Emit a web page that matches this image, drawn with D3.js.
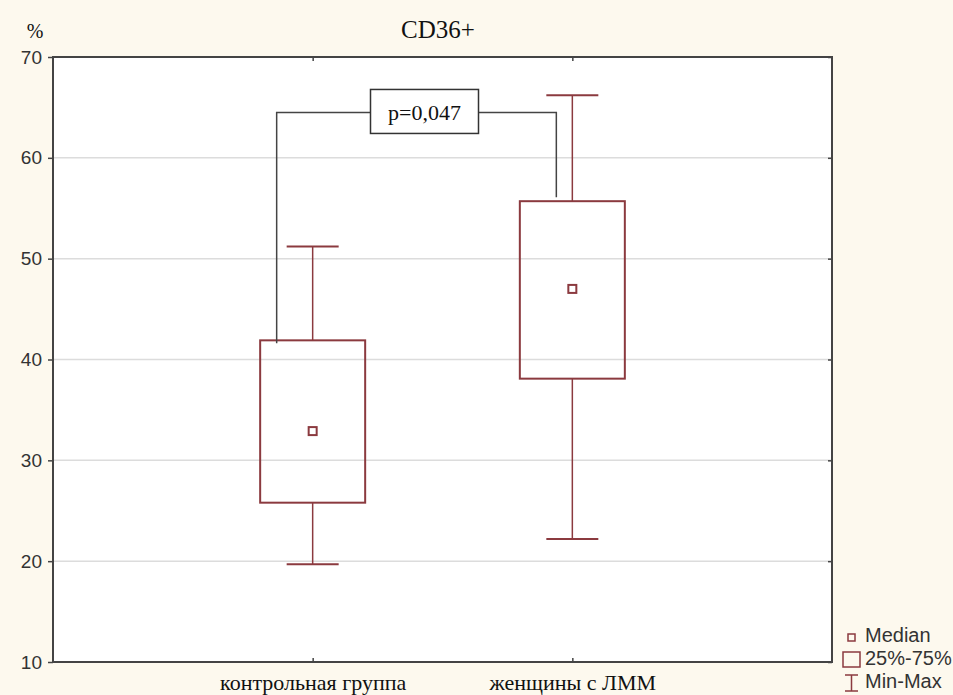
<!DOCTYPE html>
<meta charset="utf-8">
<style>
body { margin: 0; background: #fdf9ee; }
svg { display: block; }
.sans { font-family: Arial, "Liberation Sans", sans-serif; fill: #333; }
.serif { font-family: "Times New Roman", "Liberation Serif", serif; fill: #111; }
</style>
<body>
<script src="https://d3js.org/d3.v7.min.js"></script>
<script>

var categories = ["контрольная группа", "женщины с ЛММ"];
var mins    = [19.7, 22.2];
var q1s     = [25.8, 38.1];
var medians = [32.9, 47.0];
var q3s     = [41.9, 55.7];
var maxs    = [51.2, 66.2];

var yTicks = [10, 20, 30, 40, 50, 60, 70];

// significance bracket: level, leg ends, label
var pLevel = 64.5;
var pLegs = [41.6, 56.1];
var pLabel = "p=0,047";

var width = 953,
    height = 695;
var margin = {top: 57, right: 121, bottom: 33, left: 53};

var boxColor = "#8b3a3f";

var svg = d3.select("body").append("svg")
    .attr("width", width)
    .attr("height", height);

var x = d3.scalePoint()
    .domain(categories)
    .range([margin.left, width - margin.right])
    .padding(1);

var y = d3.scaleLinear()
    .domain([10, 70])
    .range([height - margin.bottom, margin.top]);

// plot area
svg.append("rect")
    .attr("x", margin.left)
    .attr("y", margin.top)
    .attr("width", width - margin.left - margin.right)
    .attr("height", height - margin.top - margin.bottom)
    .attr("fill", "#fff");

// grid
svg.append("g")
  .selectAll("line")
  .data(yTicks.slice(1, -1))
  .join("line")
    .attr("x1", margin.left)
    .attr("x2", width - margin.right)
    .attr("y1", function(d) { return y(d); })
    .attr("y2", function(d) { return y(d); })
    .attr("stroke", "#dcdcdc")
    .attr("stroke-width", 1.5);

// axes
var yAxis = svg.append("g")
    .attr("transform", "translate(" + margin.left + ",0)")
    .call(d3.axisLeft(y).tickValues(yTicks).tickSize(5).tickPadding(6).tickSizeOuter(0));
yAxis.select(".domain").remove();
yAxis.selectAll("line").attr("stroke", "#444").attr("stroke-width", 1.5);
yAxis.selectAll("text")
    .attr("class", "sans")
    .attr("font-size", 19)
    .attr("fill", "#333");

svg.append("g")
    .attr("transform", "translate(" + (width - margin.right) + ",0)")
    .call(d3.axisRight(y).tickValues(yTicks).tickSize(-4).tickFormat("").tickSizeOuter(0))
    .call(function(g) { g.select(".domain").remove(); g.selectAll("line").attr("stroke", "#444").attr("stroke-width", 1.5); });

svg.append("g")
    .attr("transform", "translate(0," + margin.top + ")")
    .call(d3.axisTop(x).tickSize(-4).tickFormat("").tickSizeOuter(0))
    .call(function(g) { g.select(".domain").remove(); g.selectAll("line").attr("stroke", "#444").attr("stroke-width", 1.5); });

var xAxis = svg.append("g")
    .attr("transform", "translate(0," + (height - margin.bottom) + ")")
    .call(d3.axisBottom(x).tickSize(-4).tickPadding(12).tickSizeOuter(0));
xAxis.select(".domain").remove();
xAxis.selectAll("line").attr("stroke", "#444").attr("stroke-width", 1.5);
xAxis.selectAll("text")
    .attr("class", "serif")
    .attr("font-size", 22)
    .attr("fill", "#111");

// frame
svg.append("rect")
    .attr("x", margin.left)
    .attr("y", margin.top)
    .attr("width", width - margin.left - margin.right)
    .attr("height", height - margin.top - margin.bottom)
    .attr("fill", "none")
    .attr("stroke", "#444")
    .attr("stroke-width", 2);

// boxes
var boxW = 105, capW = 52, medS = 8;
var data = categories.map(function(c, i) {
  return {cat: c, min: mins[i], q1: q1s[i], med: medians[i], q3: q3s[i], max: maxs[i]};
});

var g = svg.append("g").selectAll("g")
    .data(data)
    .join("g")
    .attr("transform", function(d) { return "translate(" + x(d.cat) + ",0)"; });

g.append("line")
    .attr("y1", function(d) { return y(d.max); })
    .attr("y2", function(d) { return y(d.q3); })
    .attr("stroke", boxColor).attr("stroke-width", 1.5);
g.append("line")
    .attr("y1", function(d) { return y(d.q1); })
    .attr("y2", function(d) { return y(d.min); })
    .attr("stroke", boxColor).attr("stroke-width", 1.5);
g.append("line")
    .attr("x1", -capW / 2).attr("x2", capW / 2)
    .attr("y1", function(d) { return y(d.max); })
    .attr("y2", function(d) { return y(d.max); })
    .attr("stroke", boxColor).attr("stroke-width", 2);
g.append("line")
    .attr("x1", -capW / 2).attr("x2", capW / 2)
    .attr("y1", function(d) { return y(d.min); })
    .attr("y2", function(d) { return y(d.min); })
    .attr("stroke", boxColor).attr("stroke-width", 2);
g.append("rect")
    .attr("x", -boxW / 2)
    .attr("width", boxW)
    .attr("y", function(d) { return y(d.q3); })
    .attr("height", function(d) { return y(d.q1) - y(d.q3); })
    .attr("fill", "none")
    .attr("stroke", boxColor)
    .attr("stroke-width", 2);
g.append("rect")
    .attr("x", -medS / 2)
    .attr("width", medS)
    .attr("y", function(d) { return y(d.med) - medS / 2; })
    .attr("height", medS)
    .attr("fill", "#fff")
    .attr("stroke", boxColor)
    .attr("stroke-width", 2);

// significance bracket
var xa = x(categories[0]) - 36, xb = x(categories[1]) - 16;
svg.append("path")
    .attr("d", "M" + xa + "," + y(pLegs[0]) + "V" + y(pLevel) + "H" + xb + "V" + y(pLegs[1]))
    .attr("fill", "none")
    .attr("stroke", "#444")
    .attr("stroke-width", 1.5);
var pcx = (xa + xb) / 2 + 8;
svg.append("rect")
    .attr("x", pcx - 54)
    .attr("y", y(pLevel) - 23)
    .attr("width", 108)
    .attr("height", 44)
    .attr("fill", "#fff")
    .attr("stroke", "#333")
    .attr("stroke-width", 1.5);
svg.append("text")
    .attr("class", "serif")
    .attr("x", pcx)
    .attr("y", y(pLevel) + 8)
    .attr("text-anchor", "middle")
    .attr("font-size", 22)
    .text(pLabel);

// titles
svg.append("text")
    .attr("class", "serif")
    .attr("x", 438)
    .attr("y", 38)
    .attr("text-anchor", "middle")
    .attr("font-size", 25)
    .text("CD36+");
svg.append("text")
    .attr("class", "serif")
    .attr("x", 35)
    .attr("y", 38)
    .attr("text-anchor", "middle")
    .attr("font-size", 20)
    .text("%");

// legend
var lg = svg.append("g").attr("transform", "translate(851,0)");
lg.append("rect")
    .attr("x", -3).attr("y", 634).attr("width", 7).attr("height", 7)
    .attr("fill", "none").attr("stroke", boxColor).attr("stroke-width", 1.5);
lg.append("rect")
    .attr("x", -8).attr("y", 652).attr("width", 17).attr("height", 15)
    .attr("fill", "none").attr("stroke", boxColor).attr("stroke-width", 1.5);
lg.append("path")
    .attr("d", "M-6,675H7M0.5,675V691M-6,691H7")
    .attr("fill", "none").attr("stroke", boxColor).attr("stroke-width", 1.5);
var legendLabels = ["Median", "25%-75%", "Min-Max"];
lg.selectAll(".lt")
  .data(legendLabels)
  .join("text")
    .attr("class", "sans")
    .attr("x", 14)
    .attr("y", function(d, i) { return 642 + i * 23; })
    .attr("font-size", 20)
    .text(function(d) { return d; });

</script>
